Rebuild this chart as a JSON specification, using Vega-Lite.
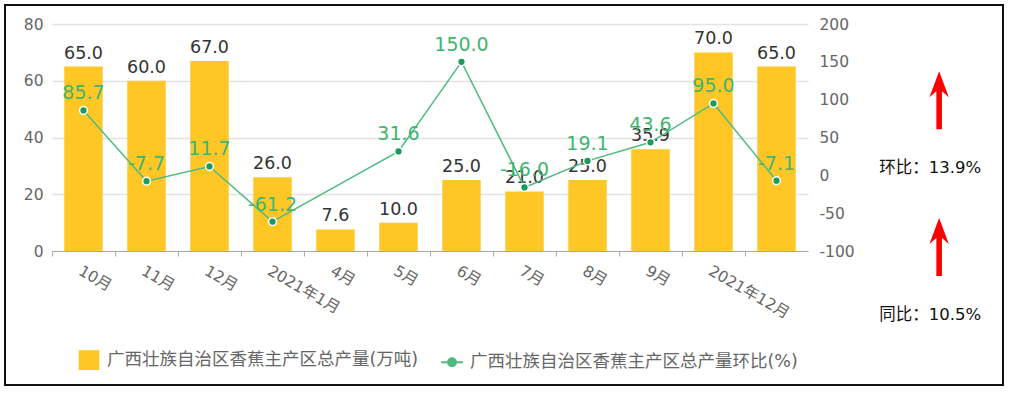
{
  "$schema": "https://vega.github.io/schema/vega-lite/v6.json",
  "width": 998,
  "height": 380,
  "autosize": {"type": "none"},
  "padding": {"left": 5, "top": 5, "right": 9, "bottom": 10},
  "background": "white",
  "config": {
    "view": {"stroke": "#111111", "strokeWidth": 2},
    "font": "DejaVu Sans, Noto Sans CJK SC",
    "locale": {"number": {"decimal": ".", "thousands": ",", "grouping": [3], "currency": ["", ""], "minus": "-"}}
  },
  "datasets": {
    "main": [
      {"月份": "10月", "产量": 65.0, "环比": 85.7},
      {"月份": "11月", "产量": 60.0, "环比": -7.7},
      {"月份": "12月", "产量": 67.0, "环比": 11.7},
      {"月份": "2021年1月", "产量": 26.0, "环比": -61.2},
      {"月份": "4月", "产量": 7.6, "环比": null},
      {"月份": "5月", "产量": 10.0, "环比": 31.6},
      {"月份": "6月", "产量": 25.0, "环比": 150.0},
      {"月份": "7月", "产量": 21.0, "环比": -16.0},
      {"月份": "8月", "产量": 25.0, "环比": 19.1},
      {"月份": "9月", "产量": 35.9, "环比": 43.6},
      {"月份": "2021年12月", "产量": 70.0, "环比": 95.0},
      {"月份": "", "产量": 65.0, "环比": -7.1}
    ],
    "notes": [
      {"指标": "环比", "标签": "环比：13.9%"},
      {"指标": "同比", "标签": "同比：10.5%"}
    ]
  },
  "layer": [
    {
      "data": {"name": "main"},
      "encoding": {
        "x": {
          "field": "月份",
          "type": "nominal",
          "sort": null,
          "scale": {"range": [47, 803], "paddingInner": 0, "paddingOuter": 0},
          "axis": {
            "title": null,
            "offset": -134,
            "bandPosition": 0,
            "labelAngle": 30,
            "labelAlign": "left",
            "labelBaseline": "top",
            "labelOverlap": false,
            "labelFontSize": 15.5,
            "labelColor": "#666666",
            "labelPadding": 7,
            "tickSize": 5,
            "tickColor": "#aaaaaa",
            "domainColor": "#aaaaaa",
            "grid": false
          }
        }
      },
      "layer": [
        {
          "encoding": {
            "y": {
              "field": "产量",
              "type": "quantitative",
              "scale": {"domain": [0, 80], "range": [246, 19], "nice": false},
              "axis": {
                "title": null,
                "offset": -47,
                "values": [0, 20, 40, 60, 80],
                "ticks": false,
                "domain": false,
                "labelFontSize": 15.5,
                "labelColor": "#666666",
                "labelPadding": 9,
                "grid": true,
                "gridColor": "#e3e3e3",
                "gridWidth": 1.5
              }
            }
          },
          "layer": [
            {
              "mark": {"type": "bar", "width": {"band": 0.61}},
              "encoding": {
                "color": {
                  "datum": "广西壮族自治区香蕉主产区总产量(万吨)",
                  "type": "nominal",
                  "scale": {
                    "domain": ["广西壮族自治区香蕉主产区总产量(万吨)", "广西壮族自治区香蕉主产区总产量环比(%)"],
                    "range": ["#FEC726", "#4FBA80"]
                  },
                  "legend": {
                    "title": null,
                    "orient": "none",
                    "legendX": 72,
                    "legendY": 343,
                    "direction": "horizontal",
                    "symbolSize": 484,
                    "labelFontSize": 17.5,
                    "labelColor": "#666666",
                    "labelOffset": 6,
                    "columnPadding": 18,
                    "labelLimit": 400,
                    "encode": {
                      "symbols": {
                        "update": {
                          "shape": {"signal": "datum.index === 0 ? 'M-0.85,-0.8H0.85V0.8H-0.85Z' : 'M-1,0H1M0.36,0A0.36,0.36,0,1,1,-0.36,0A0.36,0.36,0,1,1,0.36,0Z'"},
                          "fill": {"signal": "datum.index === 0 ? '#FEC726' : '#1A9A5B'"},
                          "stroke": {"signal": "datum.index === 0 ? 'transparent' : '#4FBA80'"},
                          "strokeWidth": {"value": 2},
                          "opacity": {"value": 1},
                          "fillOpacity": {"value": 1}
                        }
                      }
                    }
                  }
                }
              }
            },
            {
              "mark": {"type": "text", "baseline": "alphabetic", "dy": -8, "fontSize": 17.5, "fill": "#333333"},
              "encoding": {
                "text": {"field": "产量", "type": "quantitative", "format": ".1f"}
              }
            }
          ]
        },
        {
          "transform": [{"filter": "datum['环比'] != null"}],
          "encoding": {
            "y": {
              "field": "环比",
              "type": "quantitative",
              "scale": {"domain": [-100, 200], "range": [246, 19], "nice": false, "zero": false},
              "axis": {
                "title": null,
                "orient": "right",
                "offset": -195,
                "values": [-100, -50, 0, 50, 100, 150, 200],
                "ticks": false,
                "domain": false,
                "grid": false,
                "labelFontSize": 15.5,
                "labelColor": "#666666",
                "labelPadding": 11
              }
            }
          },
          "layer": [
            {
              "mark": {"type": "line", "strokeWidth": 1.5},
              "encoding": {
                "color": {
                  "datum": "广西壮族自治区香蕉主产区总产量环比(%)",
                  "type": "nominal",
                  "scale": {
                    "domain": ["广西壮族自治区香蕉主产区总产量(万吨)", "广西壮族自治区香蕉主产区总产量环比(%)"],
                    "range": ["#FEC726", "#4FBA80"]
                  }
                }
              }
            },
            {
              "mark": {"type": "circle", "size": 60, "fill": "#1A9A5B", "stroke": "#ffffff", "strokeWidth": 1.5, "opacity": 1}
            },
            {
              "mark": {"type": "text", "baseline": "alphabetic", "dy": -11, "fontSize": 19, "fill": "#3FB571"},
              "encoding": {
                "text": {"field": "环比", "type": "quantitative", "format": ".1f"}
              }
            }
          ]
        }
      ],
      "resolve": {"scale": {"y": "independent"}}
    },
    {
      "data": {"name": "notes"},
      "encoding": {
        "x": {"datum": "对比", "type": "nominal", "scale": {"type": "point", "align": 0.927}, "axis": null},
        "y": {"field": "指标", "type": "nominal", "sort": null, "scale": {"type": "point", "padding": 0.793, "align": 0.7}, "axis": null}
      },
      "layer": [
        {
          "mark": {
            "type": "point",
            "shape": "M0.9,-9.7L1.87,-7.1L1.18,-7.7L1.18,-3.9L0.62,-3.9L0.62,-7.7L-0.07,-7.1Z",
            "size": 400,
            "filled": true,
            "fill": "#FF0000",
            "stroke": null,
            "opacity": 1
          }
        },
        {
          "mark": {"type": "text", "align": "center", "baseline": "middle", "fontSize": 16.5, "fill": "#111111"},
          "encoding": {"text": {"field": "标签", "type": "nominal"}}
        }
      ]
    }
  ],
  "resolve": {"scale": {"x": "independent", "y": "independent"}}
}
